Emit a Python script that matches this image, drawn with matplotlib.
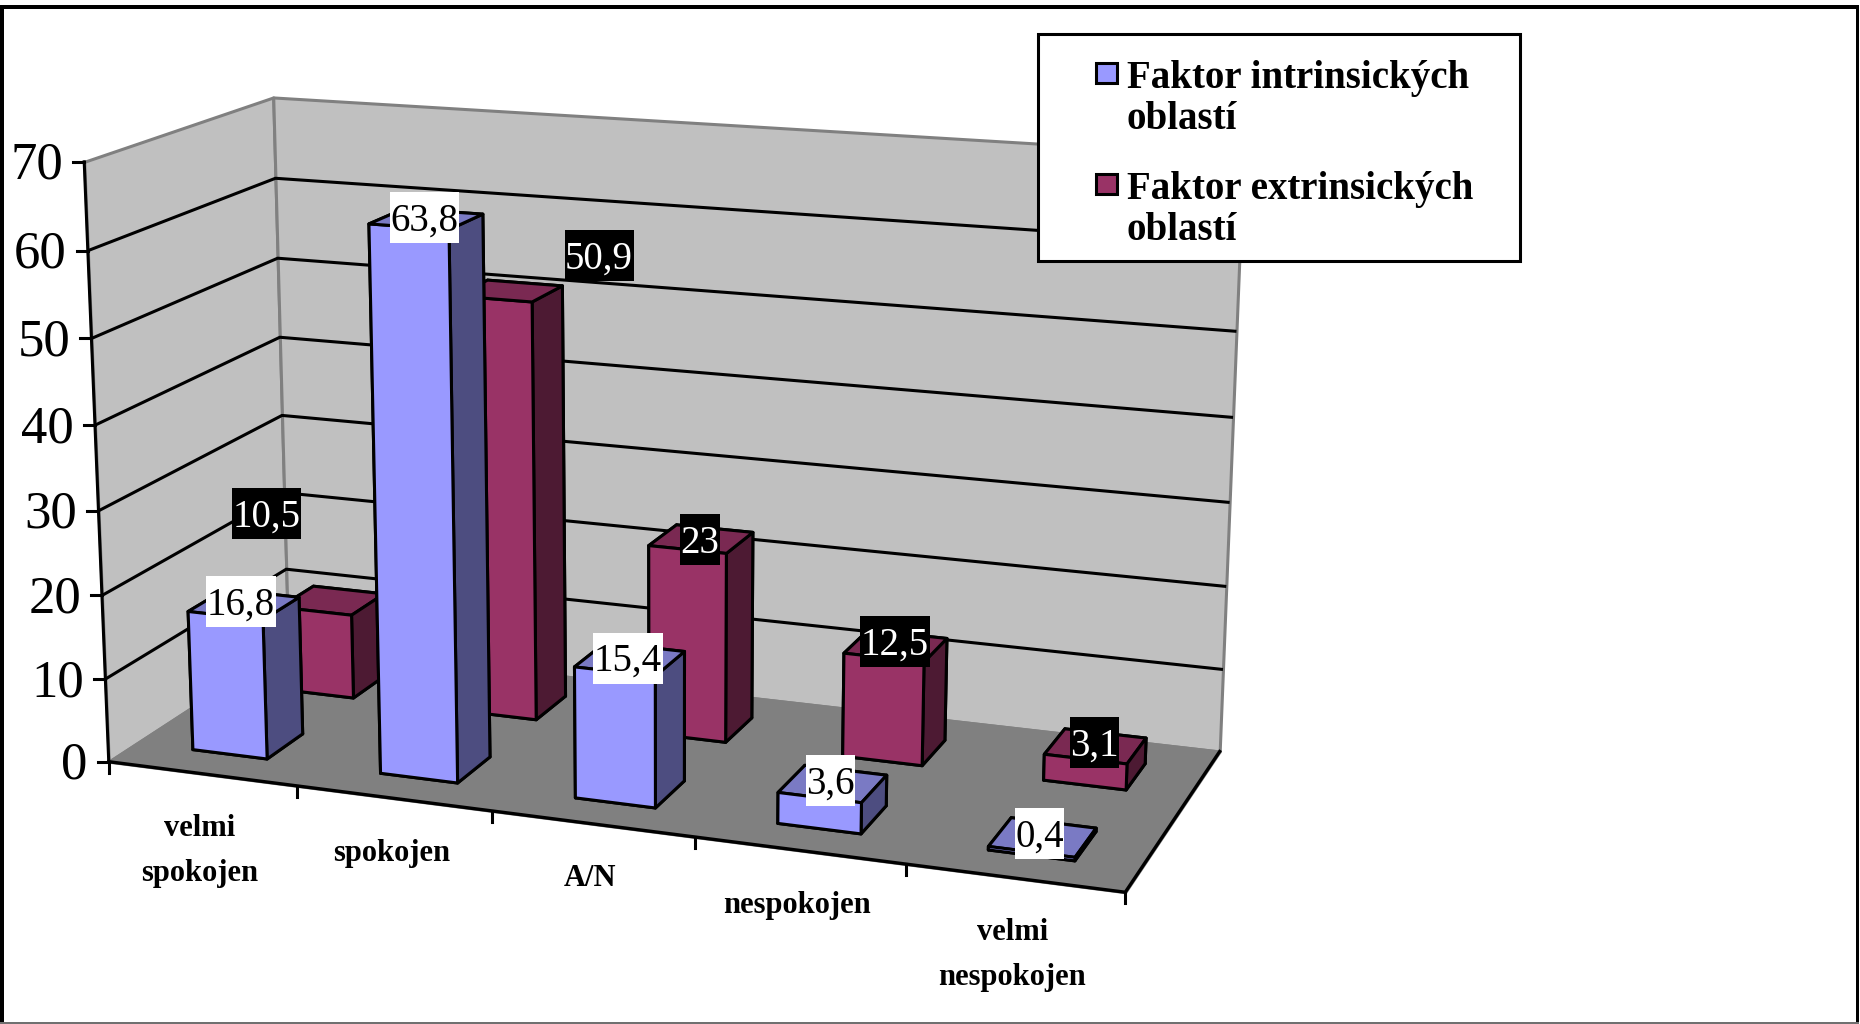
import matplotlib
matplotlib.use('Agg')
import matplotlib.pyplot as plt
from matplotlib.patches import Rectangle
from matplotlib.lines import Line2D
from matplotlib.transforms import IdentityTransform
from mpl_toolkits.mplot3d import proj3d
from mpl_toolkits.mplot3d.art3d import Poly3DCollection

plt.rcParams['font.family'] = ['Liberation Serif', 'DejaVu Serif']

categories = ['velmi\nspokojen', 'spokojen', 'A/N', 'nespokojen', 'velmi\nnespokojen']
intrinsic = [16.8, 63.8, 15.4, 3.6, 0.4]
extrinsic = [10.5, 50.9, 23, 12.5, 3.1]
intrinsic_labels = ['16,8', '63,8', '15,4', '3,6', '0,4']
extrinsic_labels = ['10,5', '50,9', '23', '12,5', '3,1']
yticks = [0, 10, 20, 30, 40, 50, 60, 70]
series_names = ['Faktor intrinsických\noblastí', 'Faktor extrinsických\noblastí']

W, H = 1860, 1024
# shades: top, front, side (old Excel look)
BLUE = ['#7A7AC4', '#9999FF', '#4D4D80']
RED = ['#7A2952', '#993366', '#4D1A33']
# label offsets from the bar top in pixels, the labels were dragged by hand in the original
blue_offsets = [(-2.9, -2.9), (-1.5, -1.0), (-1.8, -1.1), (-2.3, -3.3), (-3.1, -3.7)]
red_offsets = [(-65.3, -87.0), (89.5, -35.4), (-1.1, 1.0), (-0.8, -4.3), (-1.0, -3.6)]

fig = plt.figure(figsize=(W / 100, H / 100), dpi=100)
T = IdentityTransform()
size = 1254.5
ax = fig.add_axes([22.07 / W, -84.3 / H, size / W, size / H], projection='3d',
                  computed_zorder=False)
ax.set_axis_off()
ax.set_xlim(0, 5, view_margin=0)
ax.set_ylim(0, 1, view_margin=0)
ax.set_zlim(0, yticks[-1], view_margin=0)
ax.view_init(14.7844, -69.8871, 0.0189)
ax.set_proj_type('persp', focal_length=0.5462)
ax.set_box_aspect((1, 0.3968, 0.5857))
ax.apply_aspect()
M = ax.get_proj()


def to_px(x, y, z):
    u, v, _ = proj3d.proj_transform(x, y, z, M)
    return ax.transData.transform((u, v))


nx, top = len(categories), yticks[-1]
left_wall = [(0, 0, 0), (0, 1, 0), (0, 1, top), (0, 0, top)]
back_wall = [(0, 1, 0), (nx, 1, 0), (nx, 1, top), (0, 1, top)]
floor = [(0, 0, 0), (nx, 0, 0), (nx, 1, 0), (0, 1, 0)]
for verts, c, zo in [(left_wall, '#C0C0C0', 1), (back_wall, '#C0C0C0', 1), (floor, '#808080', 1.1)]:
    ax.add_collection3d(Poly3DCollection([verts], facecolors=c, edgecolors='#808080',
                                         linewidths=2.2, zorder=zo))

for z in yticks[1:-1]:
    ax.plot([0, 0, nx], [0, 1, 1], [z, z, z], color='k', lw=2.2, zorder=1.5, solid_capstyle='butt')
ax.plot([0, 0], [0, 0], [0, top], color='k', lw=2.2, zorder=1.6)
ax.plot([0, nx, nx], [0, 0, 1], [0, 0, 0], color='k', lw=2.4, zorder=1.6)

zo = 3
for vals, y0, shades in [(extrinsic, 0.65, RED), (intrinsic, 0.15, BLUE)]:
    for i, v in enumerate(vals):
        ax.bar3d(i + 0.3, y0, 0, 0.4, 0.2, v, shade=False, edgecolor='k', linewidth=2.2,
                 color=[shades[0], shades[0], shades[1], shades[1], shades[2], shades[2]],
                 zorder=zo)
        zo += 1

# y ticks and labels
for z in yticks:
    px, py = to_px(0, 0, z)
    fig.add_artist(Line2D([px - 11, px], [py, py], color='k', lw=2.2, transform=T))
    fig.text(px - 21, py - 17, str(z), fontsize=38, ha='right', va='baseline', transform=T)

# category ticks and labels
for i in range(nx + 1):
    px, py = to_px(i, 0, 0)
    fig.add_artist(Line2D([px, px], [py, py - 11], color='k', lw=2.2, transform=T))
for i, name in enumerate(categories):
    px, py = to_px(i + 0.5, 0, 0)
    for j, line in enumerate(name.split('\n')):
        fig.text(px - 2, py - 62.5 - 45 * j, line, fontsize=22, fontweight='bold', ha='center',
                 va='baseline', transform=T)

# data labels, boxes are taller than matplotlib's tight bbox
renderer = fig.canvas.get_renderer()
for vals, labels, offsets, y0, fg, bg in [
        (intrinsic, intrinsic_labels, blue_offsets, 0.25, 'k', 'w'),
        (extrinsic, extrinsic_labels, red_offsets, 0.75, 'w', 'k')]:
    for i, (v, s, (dx, dy)) in enumerate(zip(vals, labels, offsets)):
        px, py = to_px(i + 0.5, y0, v)
        cx, cy = px + dx, py - dy
        t = fig.text(cx, cy - 13, s, fontsize=28, color=fg, ha='center', va='baseline',
                     transform=T, zorder=6)
        w = t.get_window_extent(renderer).width + 1
        fig.add_artist(Rectangle((cx - w / 2, cy - 25.5), w, 51, facecolor=bg, edgecolor='none',
                                 transform=T, zorder=5))

# legend drawn by hand, keys sit on the first text line
fig.add_artist(Rectangle((1038, H - 261), 482, 227, facecolor='w', edgecolor='k', lw=2.2,
                         transform=T, zorder=7))
for name, c, y in zip(series_names, [BLUE[1], RED[1]], [86, 197]):
    fig.add_artist(Rectangle((1095.5, H - y + 3), 21, 20, facecolor=c, edgecolor='k', lw=2.2,
                             transform=T, zorder=8))
    for j, line in enumerate(name.split('\n')):
        fig.text(1127, H - y - 2 - 41 * j, line, fontsize=28, fontweight='bold', va='baseline',
                 transform=T, zorder=8)

# picture frame
for x, y, w, h, c in [(0, H - 8.5, W - 1, 3.5, 'k'), (0, 0, 3.5, H - 5, 'k'),
                      (W - 4, 0, 3, H - 5, 'k'), (0, 0, W - 1, 2, '#707070')]:
    fig.add_artist(Rectangle((x, y), w, h, facecolor=c, edgecolor='none', transform=T, zorder=9))

fig.savefig('out.png', dpi=100)
